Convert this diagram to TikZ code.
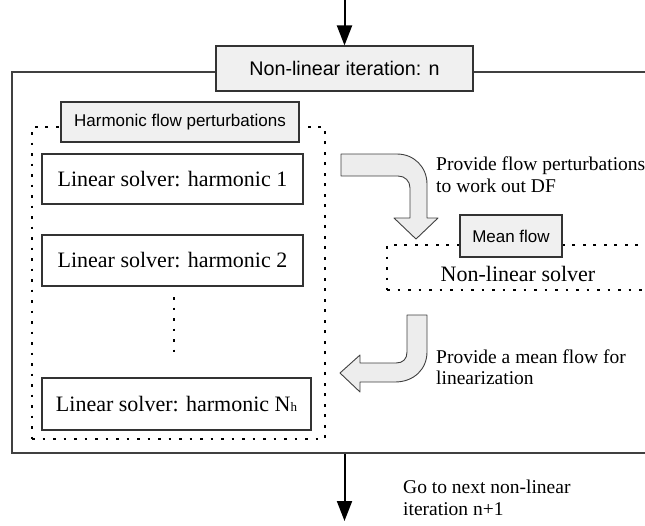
\documentclass[tikz,border=0pt]{standalone}
\usepackage{fontspec}
\setmainfont{Liberation Serif}
\newfontfamily\arialfont{Liberation Sans}
\usetikzlibrary{arrows.meta}

\tikzset{
  graybox/.style={draw=black!80, fill=black!6, line width=1.1pt, inner sep=0pt, font=\arialfont},
  solverbox/.style={draw=black!80, fill=white, line width=1.1pt, inner sep=0pt, font=\fontsize{22}{26}\selectfont},
  dotframe/.style={draw=black, line width=2.8pt, dash pattern=on 2.8pt off 7.7pt, inner sep=0pt},
  note/.style={anchor=north west, align=left, inner sep=0pt, font=\fontsize{19.5}{22}\selectfont},
  flowarrow/.style={-{Triangle[length=20pt,width=15pt]}, line width=2pt},
  bendarrow/.style={draw=black!75, fill=black!7, line width=0.9pt, line join=round}
}

\begin{document}
\begin{tikzpicture}[x=1pt,y=-1pt]
\useasboundingbox (0,0) rectangle (645,525);
\clip (0,0) rectangle (645,525);

% outer loop of one non-linear iteration
\node[draw=black!75, line width=1.3pt, minimum width=688pt, minimum height=381pt, inner sep=0pt] (loop) at (356,262.5) {};
\node[graybox, minimum width=257pt, minimum height=45pt, font=\arialfont\fontsize{19.7}{22}\selectfont] (iter) at (344.5,68.5) {Non-linear iteration: n};

% harmonic part
\node[dotframe, minimum width=293pt, minimum height=312pt] (hframe) at (178.5,283) {};
\node[graybox, minimum width=238pt, minimum height=40pt, font=\arialfont\fontsize{17}{20}\selectfont] (harm) at (180,122) {Harmonic flow perturbations};
\node[solverbox, minimum width=261pt, minimum height=50pt] (lin1) at (172.5,179) {Linear solver: harmonic 1};
\node[solverbox, minimum width=261pt, minimum height=51pt] (lin2) at (172.5,260.5) {Linear solver: harmonic 2};
\node[solverbox, minimum width=269pt, minimum height=52pt] (linN) at (176.5,404) {Linear solver: harmonic N{\fontsize{13}{13}\selectfont h}};
\draw[dotframe] (174,297) -- (174,352);

% mean flow part
\node[dotframe, minimum width=313pt, minimum height=45pt] (nlframe) at (543.5,267.5) {};
\node[graybox, minimum width=102pt, minimum height=42pt, font=\arialfont\fontsize{17}{20}\selectfont] (mean) at (511,236) {Mean flow};
\node[inner sep=0pt, font=\fontsize{22}{26}\selectfont] (nlsolver) at (518,273.5) {Non-linear solver};

% bent arrows between the two parts
\draw[bendarrow] (341,154) -- (397,154) .. controls (414,154) and (427,167) .. (427,184)
  -- (427,218) -- (438,218) -- (416,239) -- (394,218) -- (410,218) -- (410,188)
  .. controls (410,181) and (405,176) .. (398,176) -- (341,176) -- cycle;
\draw[bendarrow] (407,315) -- (427,315) -- (427,352) .. controls (427,369) and (414,382) .. (395,382)
  -- (360,382) -- (360,392) -- (340,373) -- (360,355) -- (360,363) -- (396,363)
  .. controls (403,363) and (407,359) .. (407,352) -- cycle;

% notes
\node[note] (perturbnote) at (436,156.7) {Provide flow perturbations\\to work out DF};
\node[note, font=\fontsize{19.5}{21}\selectfont] (meannote) at (436,349.7) {Provide a mean flow for\\linearization};
\node[note] (nextnote) at (403,479.7) {Go to next non-linear\\iteration n+1};

% in and out
\coordinate (entry) at (344.5,0);
\coordinate (exit) at (344.5,521);
\draw[flowarrow] (entry) -- (iter.north);
\draw[flowarrow] (iter.south |- loop.south) -- (exit);
\end{tikzpicture}
\end{document}
